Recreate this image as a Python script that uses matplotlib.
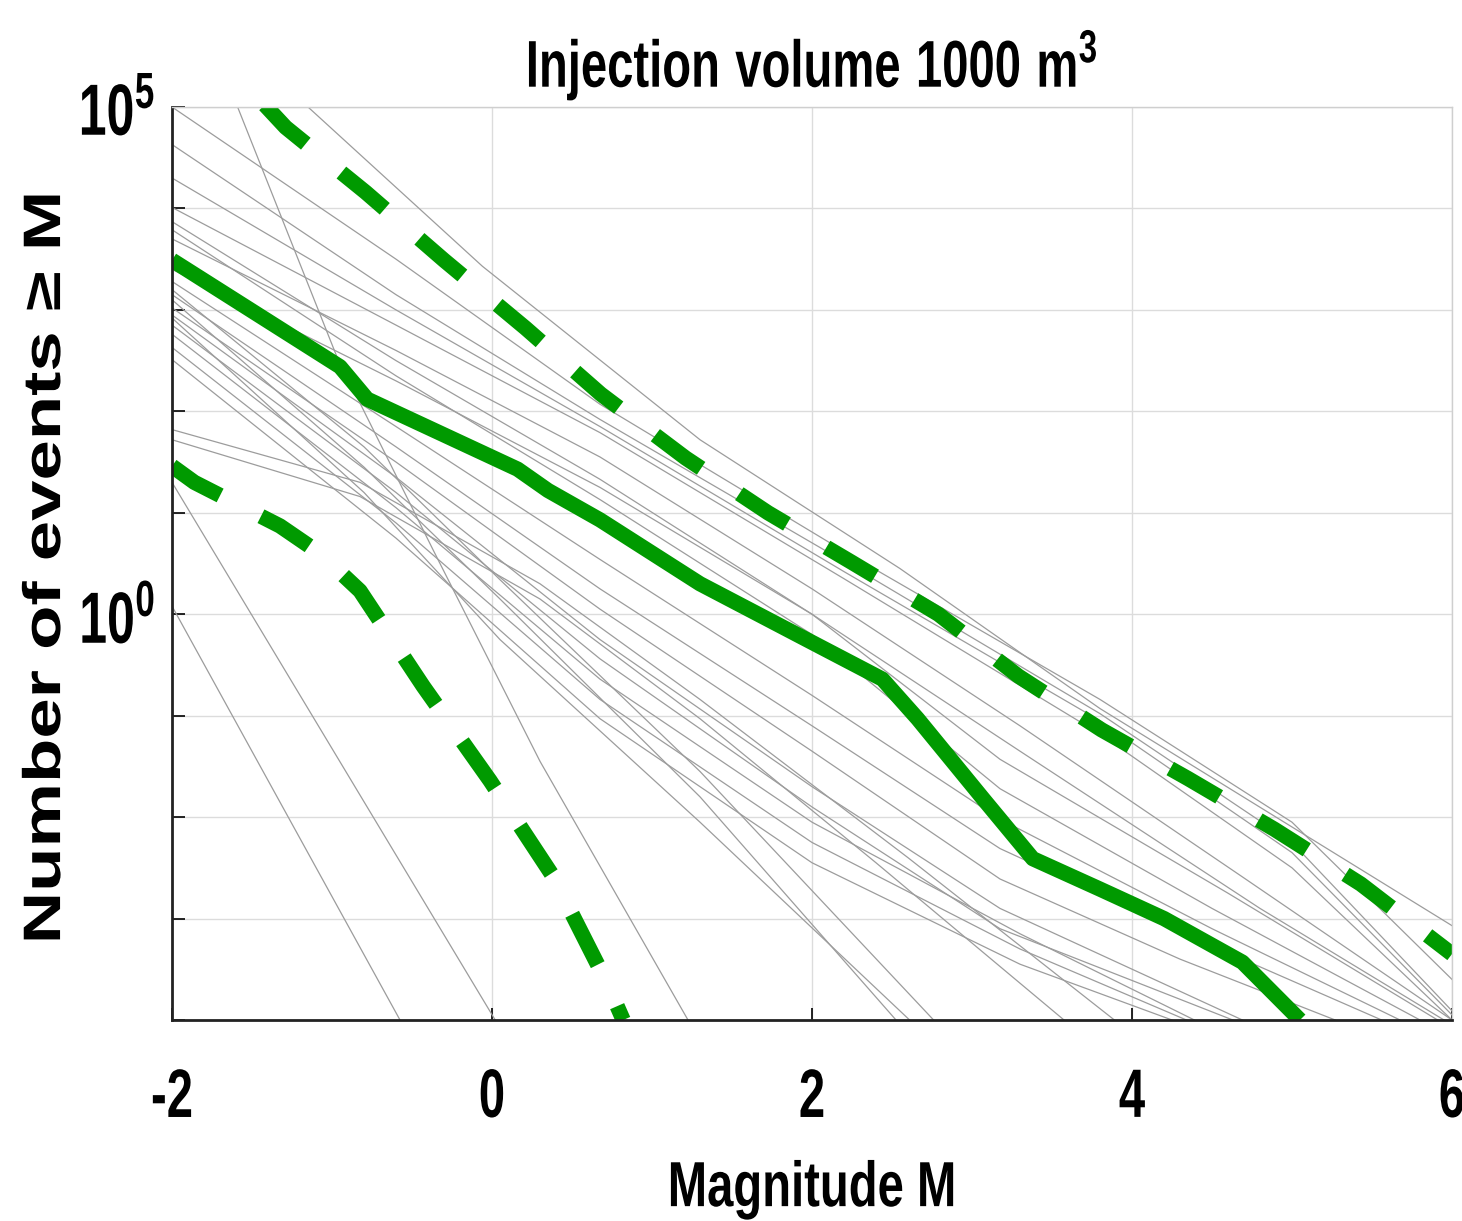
import matplotlib
matplotlib.use('Agg')
import matplotlib.pyplot as plt
from matplotlib.ticker import NullLocator
from matplotlib.patheffects import AbstractPathEffect
from matplotlib.transforms import Affine2D
import numpy as np

plt.rcParams['font.family'] = ['Liberation Sans', 'DejaVu Sans']


class Stretch(AbstractPathEffect):
    # the reference image is squeezed sideways, so glyphs are drawn stretched
    def __init__(self, sx=1.0, sy=1.0):
        super().__init__()
        self.sx, self.sy = sx, sy

    def draw_path(self, renderer, gc, tpath, affine, rgbFace=None):
        ext = tpath.get_extents()
        cx, cy = (ext.x0 + ext.x1) / 2, (ext.y0 + ext.y1) / 2
        tr = Affine2D().translate(-cx, -cy).scale(self.sx, self.sy).translate(cx, cy)
        renderer.draw_path(gc, tpath, tr + affine, rgbFace)


# magnitude M and log10(number of events >= M)
median_m = [-2, -0.95, -0.78, 0.16, 0.35, 0.675, 1.3, 1.93, 2.44, 2.66, 3.07, 3.38, 3.8, 4.2, 4.69, 5.05]
median_logn = [3.49, 2.44, 2.12, 1.43, 1.22, 0.93, 0.30, -0.22, -0.64, -1.03, -1.82, -2.41, -2.71, -3.0, -3.43, -4.0]

upper_m = [-1.42, -1.29, -0.79, -0.3, 0.21, 0.68, 1.21, 1.725, 2.25, 2.79, 3.29, 3.81, 4.35, 4.89, 5.43, 6.0]
upper_logn = [5.02, 4.80, 4.16, 3.49, 2.82, 2.17, 1.54, 1.0, 0.51, 0.0, -0.61, -1.14, -1.62, -2.12, -2.66, -3.35]

lower_m = [-2, -1.86, -1.325, -1.075, -0.825, -0.43, -0.0125, 0.38, 0.72, 0.82]
lower_logn = [1.46, 1.30, 0.87, 0.6, 0.23, -0.71, -1.64, -2.58, -3.64, -4.0]

# individual model curves (grey)
gray_m = [
    [-1.15, -0.06, 1.3, 2.55, 3.8, 4.9, 6.0],
    [-2, -0.6, 0.675, 2.2, 3.8, 5.0, 6.0],
    [-2, -0.6, 0.675, 2.2, 3.8, 5.0, 6.0],
    [-2, -0.6, 0.675, 2.2, 3.8, 5.0, 6.0],
    [-2, -0.6, 0.675, 2.2, 3.8, 5.0, 6.0],
    [-2, -0.6, 0.675, 2.0, 3.3, 4.7, 6.0],
    [-2, -0.6, 0.675, 2.0, 3.3, 4.8, 5.95],
    [-2, -0.6, 0.675, 2.0, 3.175, 4.6, 5.91],
    [-2, -0.6, 0.675, 2.0, 3.175, 4.5, 5.8],
    [-2, -0.6, 0.675, 2.0, 3.175, 4.5, 5.675],
    [-2, -0.6, 0.675, 2.0, 3.175, 4.4, 5.56],
    [-2, -0.6, 0.675, 2.0, 3.175, 4.3, 5.27],
    [-2, -0.6, 0.675, 2.0, 3.175, 4.69],
    [-2, -0.6, 0.675, 2.0, 3.175, 4.63],
    [-2, -0.6, 0.675, 2.0, 3.3, 4.39],
    [-2, -0.6, 0.675, 2.0, 3.3, 4.34],
    [-2, -0.6, 0.675, 2.0, 3.3, 4.25],
    [-2, -0.8, 0.05, 1.3, 2.525],
    [-2, -0.8, 0.05, 1.3, 2.61],
    [-2, -0.8, 0.05, 1.3, 2.76],
    [-2, -0.825, 0.3, 1.3, 2.6, 3.89],
    [-2, -0.825, 0.3, 1.3, 2.4, 3.575],
    [-1.59, -0.97, -0.37, 0.3, 1.225],
    [-2, -0.575],
    [-2, 0.02],
]
gray_logn = [
    [5.0, 3.43, 1.72, 0.45, -0.93, -2.0, -3.07],
    [5.0, 3.5, 2.07, 0.62, -0.84, -2.05, -3.6],
    [4.63, 3.15, 1.92, 0.52, -0.98, -2.25, -3.91],
    [4.30, 3.0, 1.85, 0.42, -1.05, -2.35, -3.95],
    [4.01, 2.85, 1.79, 0.35, -1.18, -2.5, -4.0],
    [3.70, 2.6, 1.55, 0.25, -1.1, -2.6, -4.0],
    [3.40, 2.3, 1.25, 0.0, -1.35, -2.9, -4.0],
    [3.87, 2.5, 1.33, 0.0, -1.43, -2.75, -4.0],
    [3.79, 2.35, 1.13, -0.2, -1.72, -2.9, -4.0],
    [3.28, 1.85, 0.54, -0.8, -2.02, -3.1, -4.0],
    [3.15, 1.65, 0.25, -1.1, -2.31, -3.2, -4.0],
    [3.02, 1.5, 0.05, -1.35, -2.61, -3.4, -4.0],
    [2.95, 1.35, -0.25, -1.7, -2.9, -4.0],
    [2.85, 1.2, -0.44, -1.9, -3.1, -4.0],
    [2.76, 1.05, -0.64, -2.05, -3.15, -4.0],
    [2.63, 0.9, -0.84, -2.25, -3.3, -4.0],
    [2.51, 0.75, -1.03, -2.45, -3.45, -4.0],
    [3.10, 1.45, 0.15, -1.8, -4.0],
    [2.92, 1.2, -0.25, -2.05, -4.0],
    [3.20, 1.65, 0.34, -1.55, -4.0],
    [1.82, 1.30, 0.3, -0.84, -2.4, -4.0],
    [1.72, 1.16, 0.15, -1.03, -2.45, -4.0],
    [5.0, 2.54, 0.64, -1.45, -4.0],
    [0.08, -4.0],
    [1.30, -4.0],
]

x_ticks = [-2, 0, 2, 4, 6]
x_labels = ['-2', '0', '2', '4', '6']
y_decades = list(range(-4, 6))
y_labelled = [0, 5]

green = '#009a00'

fig = plt.figure(figsize=(14.62, 12.21), dpi=100)
ax = fig.add_axes([0.11765, 0.16462, 0.87551, 0.74775])

for m, ln in zip(gray_m, gray_logn):
    ax.plot(m, 10.0 ** np.array(ln), color='#9c9c9c', lw=0.9)

ax.plot(median_m, 10.0 ** np.array(median_logn), color=green, lw=11,
        solid_joinstyle='round', solid_capstyle='butt')
for m, ln in [(upper_m, upper_logn), (lower_m, lower_logn)]:
    ax.plot(m, 10.0 ** np.array(ln), color=green, lw=11,
            linestyle=(0, (3.7, 3.0)), dash_capstyle='butt')

ax.set_yscale('log')
ax.set_xlim(-2, 6)
ax.set_ylim(1e-4, 1e5)
ax.set_xticks(x_ticks)
ax.set_xticklabels(x_labels)
ax.set_yticks([10.0 ** k for k in y_decades])
ax.set_yticklabels(['$\\mathregular{10^{%d}}$' % k if k in y_labelled else '' for k in y_decades])
ax.yaxis.set_minor_locator(NullLocator())

ax.grid(True, color='#dcdcdc', lw=1)
ax.set_axisbelow(True)
ax.tick_params(direction='in', length=9, width=1.2, labelsize=34)
ax.tick_params(axis='x', pad=40)
ax.tick_params(axis='y', pad=12, labelsize=36)
for lab in ax.get_xticklabels() + ax.get_yticklabels():
    lab.set_fontweight('bold')
    lab.set_path_effects([Stretch(1.0, 1.45)])

for s in ['left', 'bottom']:
    ax.spines[s].set_linewidth(2)
    ax.spines[s].set_color('#222222')
for s in ['top', 'right']:
    ax.spines[s].set_linewidth(1)
    ax.spines[s].set_color('#cfcfcf')

title = ax.set_title('$\\mathregular{Injection\\ volume\\ 1000\\ m^3}$', fontsize=34,
                     fontweight='bold', pad=19)
title.set_path_effects([Stretch(1.0, 1.4)])

xlab = ax.set_xlabel('Magnitude M', fontsize=34, fontweight='bold')
ax.xaxis.set_label_coords(0.5, -0.162)
xlab.set_path_effects([Stretch(1.0, 1.35)])

ylab = fig.text(0.0315, 0.5348, 'Number of events \u2265 M', rotation=90,
                ha='center', va='center', fontsize=38, fontweight='bold')
ylab.set_path_effects([Stretch(1.375, 1.0)])

fig.savefig('out.png', dpi=100)
